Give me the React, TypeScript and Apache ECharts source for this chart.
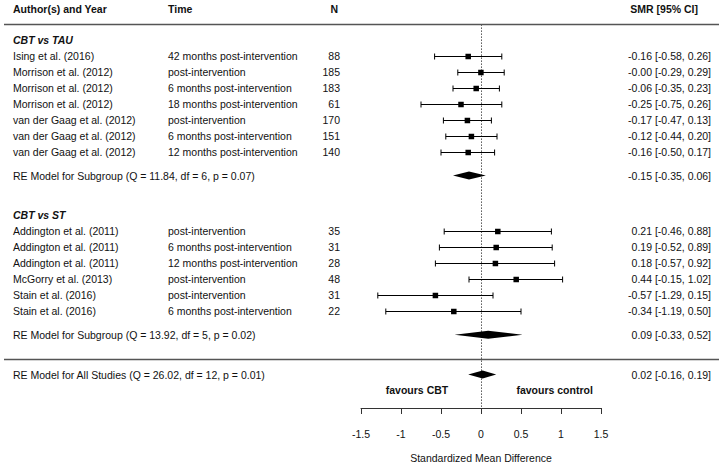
import React, { useEffect, useRef } from "react";
import * as echarts from "echarts";

// ---------- data ----------
const tauTitle = "CBT vs TAU";
const tauAuthors = [
  "Ising et al. (2016)",
  "Morrison et al. (2012)",
  "Morrison et al. (2012)",
  "Morrison et al. (2012)",
  "van der Gaag et al. (2012)",
  "van der Gaag et al. (2012)",
  "van der Gaag et al. (2012)",
];
const tauTimes = [
  "42 months post-intervention",
  "post-intervention",
  "6 months post-intervention",
  "18 months post-intervention",
  "post-intervention",
  "6 months post-intervention",
  "12 months post-intervention",
];
const tauN = [88, 185, 183, 61, 170, 151, 140];
const tauEst = [-0.16, -0.001, -0.06, -0.25, -0.17, -0.12, -0.16];
const tauLo = [-0.58, -0.29, -0.35, -0.75, -0.47, -0.44, -0.5];
const tauHi = [0.26, 0.29, 0.23, 0.26, 0.13, 0.2, 0.17];
const tauModelLabel = "RE Model for Subgroup (Q = 11.84, df = 6, p = 0.07)";
const tauModel = [-0.15, -0.35, 0.06];

const stTitle = "CBT vs ST";
const stAuthors = [
  "Addington et al. (2011)",
  "Addington et al. (2011)",
  "Addington et al. (2011)",
  "McGorry et al. (2013)",
  "Stain et al. (2016)",
  "Stain et al. (2016)",
];
const stTimes = [
  "post-intervention",
  "6 months post-intervention",
  "12 months post-intervention",
  "post-intervention",
  "post-intervention",
  "6 months post-intervention",
];
const stN = [35, 31, 28, 48, 31, 22];
const stEst = [0.21, 0.19, 0.18, 0.44, -0.57, -0.34];
const stLo = [-0.46, -0.52, -0.57, -0.15, -1.29, -1.19];
const stHi = [0.88, 0.89, 0.92, 1.02, 0.15, 0.5];
const stModelLabel = "RE Model for Subgroup (Q = 13.92, df = 5, p = 0.02)";
const stModel = [0.09, -0.33, 0.52];

const allModelLabel = "RE Model for All Studies (Q = 26.02, df = 12, p = 0.01)";
const allModel = [0.02, -0.16, 0.19];

const headers = ["Author(s) and Year", "Time", "N", "SMR [95% CI]"];
const favourLabels = ["favours CBT", "favours control"];
const xAxisName = "Standardized Mean Difference";
const xTicks = [-1.5, -1, -0.5, 0, 0.5, 1, 1.5];

// ---------- layout / style ----------
const FONT = '"Liberation Sans", Arial, Helvetica, sans-serif';
const FS = 10.5;
const TXT = "#111";
const COL_AUTHOR = 13;
const COL_TIME = 168;
const COL_N = 340;
const COL_SMR = 711;
const COL_SMR_HEAD = 698;
const LINE_X1 = 4;
const LINE_X2 = 719;

const fmt = (v: number) => v.toFixed(2);
const ci = (e: number, l: number, h: number) => `${fmt(e)} [${fmt(l)}, ${fmt(h)}]`;

type Item = {
  kind: "header" | "heading" | "study" | "summary" | "hline" | "zero" | "favour";
  row: number;
  author?: string;
  time?: string;
  n?: number;
  est?: number;
  lo?: number;
  hi?: number;
  label?: string;
  xv?: number;
};

function buildItems(): Item[] {
  const items: Item[] = [];
  items.push({ kind: "header", row: 22 });
  items.push({ kind: "hline", row: 21 });
  items.push({ kind: "hline", row: 0 });
  items.push({ kind: "zero", row: 21 });
  // TAU group
  items.push({ kind: "heading", row: 20, label: tauTitle });
  tauAuthors.forEach((a, i) =>
    items.push({
      kind: "study",
      row: 19 - i,
      author: a,
      time: tauTimes[i],
      n: tauN[i],
      est: tauEst[i],
      lo: tauLo[i],
      hi: tauHi[i],
    })
  );
  items.push({
    kind: "summary",
    row: 19 - tauAuthors.length - 0.5,
    label: tauModelLabel,
    est: tauModel[0],
    lo: tauModel[1],
    hi: tauModel[2],
  });
  // ST group
  items.push({ kind: "heading", row: 9, label: stTitle });
  stAuthors.forEach((a, i) =>
    items.push({
      kind: "study",
      row: 8 - i,
      author: a,
      time: stTimes[i],
      n: stN[i],
      est: stEst[i],
      lo: stLo[i],
      hi: stHi[i],
    })
  );
  items.push({
    kind: "summary",
    row: 8 - stAuthors.length - 0.5,
    label: stModelLabel,
    est: stModel[0],
    lo: stModel[1],
    hi: stModel[2],
  });
  items.push({
    kind: "summary",
    row: -1,
    label: allModelLabel,
    est: allModel[0],
    lo: allModel[1],
    hi: allModel[2],
  });
  items.push({ kind: "favour", row: -2, label: favourLabels[0], xv: -0.8 });
  items.push({ kind: "favour", row: -2, label: favourLabels[1], xv: 0.92 });
  return items;
}

const Y_MIN = -3.1;
const Y_MAX = 22;

function txt(text: string, x: number, y: number, align: string, bold = false, italic = false) {
  return {
    type: "text",
    x,
    y,
    silent: true,
    style: {
      text,
      fill: TXT,
      fontSize: FS,
      fontFamily: FONT,
      fontWeight: bold ? "bold" : "normal",
      fontStyle: italic ? "italic" : "normal",
      align,
      verticalAlign: "middle",
    },
  };
}

export default function App() {
  const ref = useRef<HTMLDivElement>(null);
  useEffect(() => {
    if (!ref.current) return;
    const chart = echarts.init(ref.current, undefined, { renderer: "svg" });
    const items = buildItems();

    const renderItem = (params: any, api: any) => {
      const it = items[params.dataIndex];
      const y = api.coord([0, it.row])[1];
      const yc = Math.round(y) + 0.5;
      const children: any[] = [];
      if (it.kind === "header") {
        children.push(txt(headers[0], COL_AUTHOR, y, "left", true));
        children.push(txt(headers[1], COL_TIME, y, "left", true));
        children.push(txt(headers[2], COL_N - 2, y, "right", true));
        children.push(txt(headers[3], COL_SMR_HEAD, y, "right", true));
      } else if (it.kind === "hline") {
        children.push({
          type: "line",
          shape: { x1: LINE_X1, y1: yc, x2: LINE_X2, y2: yc },
          style: { stroke: "#555", lineWidth: 1.3 },
        });
      } else if (it.kind === "zero") {
        const p1 = api.coord([0, it.row]);
        const p2 = api.coord([0, Y_MIN]);
        const x = Math.round(p1[0]) + 0.5;
        children.push({
          type: "line",
          shape: { x1: x, y1: p1[1], x2: x, y2: p2[1] },
          style: { stroke: "#555", lineWidth: 1, lineDash: [1.5, 1.5] },
        });
      } else if (it.kind === "heading") {
        children.push(txt(it.label!, COL_AUTHOR, y, "left", true, true));
      } else if (it.kind === "favour") {
        const x = api.coord([it.xv, it.row])[0];
        children.push(txt(it.label!, x, y, "center", true));
      } else if (it.kind === "study") {
        const xl = api.coord([it.lo, it.row])[0];
        const xh = api.coord([it.hi, it.row])[0];
        const xe = api.coord([it.est, it.row])[0];
        children.push({
          type: "line",
          shape: { x1: xl, y1: yc, x2: xh, y2: yc },
          style: { stroke: "#000", lineWidth: 1 },
        });
        children.push({
          type: "line",
          shape: { x1: xl, y1: yc - 3, x2: xl, y2: yc + 3 },
          style: { stroke: "#000", lineWidth: 1 },
        });
        children.push({
          type: "line",
          shape: { x1: xh, y1: yc - 3, x2: xh, y2: yc + 3 },
          style: { stroke: "#000", lineWidth: 1 },
        });
        const s = 5.5;
        children.push({
          type: "rect",
          shape: { x: xe - s / 2, y: yc - s / 2, width: s, height: s },
          style: { fill: "#000" },
        });
        children.push(txt(it.author!, COL_AUTHOR, y, "left"));
        children.push(txt(it.time!, COL_TIME, y, "left"));
        children.push(txt(String(it.n), COL_N, y, "right"));
        children.push(txt(ci(it.est!, it.lo!, it.hi!), COL_SMR, y, "right"));
      } else if (it.kind === "summary") {
        const xl = api.coord([it.lo, it.row])[0];
        const xh = api.coord([it.hi, it.row])[0];
        const xe = api.coord([it.est, it.row])[0];
        const h = 4;
        children.push({
          type: "polygon",
          shape: {
            points: [
              [xl, y],
              [xe, y - h],
              [xh, y],
              [xe, y + h],
            ],
          },
          style: { fill: "#000" },
        });
        children.push(txt(it.label!, COL_AUTHOR, y, "left"));
        children.push(txt(ci(it.est!, it.lo!, it.hi!), COL_SMR, y, "right"));
      }
      return { type: "group", children };
    };

    chart.setOption({
      animation: false,
      grid: { left: 361, width: 240, top: 8.5, bottom: 57.9, containLabel: false },
      xAxis: {
        type: "value",
        min: xTicks[0],
        max: xTicks[xTicks.length - 1],
        interval: 0.5,
        splitLine: { show: false },
        axisLine: { show: true, onZero: false, lineStyle: { color: "#333", width: 1 } },
        axisTick: { show: true, length: 6, lineStyle: { color: "#333", width: 1 } },
        axisLabel: {
          show: true,
          margin: 20,
          color: TXT,
          fontSize: FS,
          fontFamily: FONT,
          formatter: (v: number) => String(v),
        },
        name: xAxisName,
        nameLocation: "middle",
        nameGap: 44,
        nameTextStyle: { color: TXT, fontSize: FS, fontFamily: FONT },
      },
      yAxis: {
        type: "value",
        min: Y_MIN,
        max: Y_MAX,
        show: false,
        splitLine: { show: false },
      },
      series: [
        {
          type: "custom",
          clip: false,
          silent: true,
          renderItem,
          encode: { x: 0, y: 1 },
          data: items.map((it) => [it.est ?? 0, it.row]),
        },
      ],
    });
    return () => chart.dispose();
  }, []);
  return (
    <div
      ref={ref}
      style={{ position: "absolute", left: 0, top: 0, width: 723, height: 468, background: "#fff" }}
    />
  );
}
